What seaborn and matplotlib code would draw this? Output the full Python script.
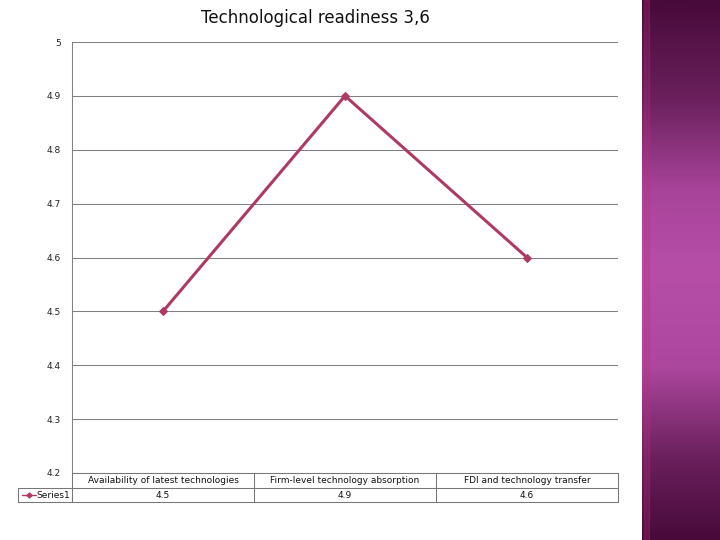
import numpy as np
import pandas as pd
import seaborn as sns
import matplotlib.pyplot as plt
from matplotlib.colors import LinearSegmentedColormap

categories = ["Availability of latest technologies",
              "Firm-level technology absorption",
              "FDI and technology transfer"]
series1 = [4.5, 4.9, 4.6]
value_labels = ["4.5", "4.9", "4.6"]
yticks = [4.2, 4.3, 4.4, 4.5, 4.6, 4.7, 4.8, 4.9, 5.0]
ytick_labels = ["4.2", "4.3", "4.4", "4.5", "4.6", "4.7", "4.8", "4.9", "5"]

sns.set_style("white")
plt.rcParams['font.family'] = ['DejaVu Sans']

W, H = 720, 540
fig = plt.figure(figsize=(7.2, 5.4), dpi=100)
fig.patch.set_facecolor("white")

# purple side panel
side = fig.add_axes([642 / W, 0, 78 / W, 1])
cmap = LinearSegmentedColormap.from_list(
    "side", [(0.0, "#480a3a"), (0.18, "#6a205c"), (0.35, "#a8449a"),
             (0.5, "#b64ea8"), (0.68, "#ac479e"), (0.85, "#6a205c"),
             (1.0, "#480a3a")])
grad = np.linspace(0, 1, 512).reshape(-1, 1)
side.imshow(grad, aspect="auto", cmap=cmap, extent=[0, 1, 0, 1], interpolation="bilinear")
side.axvspan(0.03, 0.09, color="#c0307a", alpha=0.25)
side.set_xlim(0, 1)
side.set_ylim(0, 1)
side.set_axis_off()

# main plot
ax = fig.add_axes([72 / W, (H - 473) / H, 546 / W, 431 / H])
df = pd.DataFrame({"x": [0.5, 1.5, 2.5], "y": series1})
sns.lineplot(data=df, x="x", y="y", ax=ax, color="#ad3a64", linewidth=2.2,
             marker="D", markersize=4.5, markeredgecolor="#ad3a64")
ax.set_xlim(0, 3)
ax.set_ylim(4.2, 5.0)
ax.set_yticks(yticks)
ax.set_yticklabels(ytick_labels, fontsize=6.5, color="#222222")
ax.tick_params(axis="y", length=0, pad=8)
ax.set_xticks([])
ax.set_xlabel("")
ax.set_ylabel("")
ax.grid(axis="y", color="#808080", linewidth=0.75)
for s in ["top", "right", "bottom"]:
    ax.spines[s].set_visible(False)
ax.spines["left"].set_color("#808080")
ax.spines["left"].set_linewidth(0.75)
ax.set_facecolor("white")

# data table
tax = fig.add_axes([18 / W, (H - 502) / H, 600 / W, 29 / H])
tax.set_xlim(18, 618)
tax.set_ylim(502, 473)
tax.set_axis_off()
cols = [72, 254, 436, 618]
lc = "#777777"
segs = [([72, 618], [473, 473]), ([18, 618], [488, 488]),
        ([18, 618], [502, 502]), ([18, 18], [488, 502])]
segs += [([c, c], [473, 502]) for c in cols]
for xs, ys in segs:
    tax.plot(xs, ys, color=lc, lw=0.75, clip_on=False)
for i, cat in enumerate(categories):
    xc = (cols[i] + cols[i + 1]) / 2
    tax.text(xc, 480.5, cat, ha="center", va="center", fontsize=6.5, color="#111111")
    tax.text(xc, 495, value_labels[i], ha="center", va="center", fontsize=6.5, color="#111111")
tax.plot([22, 36], [495, 495], color="#ad3a64", lw=1)
tax.plot([29], [495], marker="D", markersize=2.5, color="#ad3a64")
tax.text(70, 495, "Series1", ha="right", va="center", fontsize=6.5, color="#111111")

fig.text(315 / W, 1 - 18 / H, "Technological readiness 3,6", ha="center", va="center",
         fontsize=12, color="#111111")

fig.savefig("out.png", dpi=100)
